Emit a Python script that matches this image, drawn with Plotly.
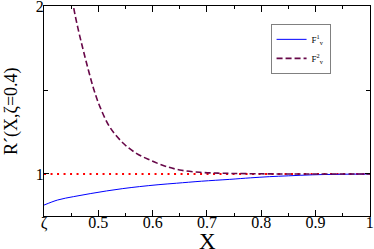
import plotly.graph_objects as go

# F^1_v (solid blue)
f1_x = [0.4, 0.425, 0.454, 0.485, 0.515, 0.545, 0.576, 0.61, 0.644, 0.69, 0.742, 0.78, 0.815, 0.85, 0.894, 0.94, 1.0]
f1_y = [0.815, 0.845, 0.865, 0.883, 0.899, 0.913, 0.925, 0.936, 0.945, 0.957, 0.968, 0.977, 0.984, 0.989, 0.995, 0.998, 1.0]

# F^2_v (dashed maroon)
f2_x = [0.445, 0.454, 0.463, 0.472, 0.482, 0.492, 0.503, 0.521, 0.546, 0.57, 0.595, 0.622, 0.65, 0.687, 0.72, 0.75, 0.8, 0.85, 0.9, 0.95, 1.0]
f2_y = [2.2, 2.0, 1.86, 1.74, 1.615, 1.50, 1.40, 1.28, 1.183, 1.123, 1.083, 1.048, 1.024, 1.01, 1.005, 1.003, 1.001, 1.0, 1.0, 1.0, 1.0]

# reference line
ref_x = [0.4, 1.0]
ref_y = [1.0, 1.0]

x_ticks = [0.4, 0.5, 0.6, 0.7, 0.8, 0.9, 1.0]
x_labels = ["ζ", "0.5", "0.6", "0.7", "0.8", "0.9", "1"]
y_ticks = [1, 2]
y_labels = ["1", "2"]

fig = go.Figure()
fig.add_trace(go.Scatter(x=ref_x, y=ref_y, mode="lines", showlegend=False,
                         line=dict(color="#ff0000", width=2.2, dash="2px,4.5px")))
fig.add_trace(go.Scatter(x=f1_x, y=f1_y, mode="lines", name="F<sup>1</sup><sub>v</sub>",
                         line=dict(color="#0000ff", width=1, shape="spline")))
fig.add_trace(go.Scatter(x=f2_x, y=f2_y, mode="lines", name="F<sup>2</sup><sub>v</sub>",
                         line=dict(color="#670748", width=1.6, dash="6px,3px", shape="spline")))

font_family = "Liberation Serif, Times New Roman, serif"
fig.update_layout(
    width=374, height=249,
    margin=dict(l=44, r=4, t=6, b=33),
    paper_bgcolor="white", plot_bgcolor="white",
    font=dict(family=font_family, color="black"),
    legend=dict(x=0.695, y=0.915, xanchor="left", yanchor="top",
                bordercolor="#808080", borderwidth=1, bgcolor="white",
                font=dict(size=9, family=font_family), itemwidth=30,
                tracegroupgap=0),
    annotations=[
        dict(text="X", xref="paper", yref="paper", x=0.5, y=0, yshift=-25,
             xanchor="center", yanchor="middle", showarrow=False,
             font=dict(size=23, family=font_family)),
        dict(text="R´(X,ζ=0.4)", xref="paper", yref="paper", x=0, y=0.5, xshift=-33,
             xanchor="center", yanchor="middle", textangle=-90, showarrow=False,
             font=dict(size=18, family=font_family)),
    ],
)
fig.update_xaxes(range=[0.3999, 1.0004], tickvals=x_ticks, ticktext=x_labels, automargin=False,
                 ticks="inside", ticklen=6, tickcolor="black", tickwidth=1,
                 minor=dict(tickvals=[0.45, 0.55, 0.65, 0.75, 0.85, 0.95], ticks="inside", ticklen=3, tickcolor="black"),
                 showline=True, linecolor="black", linewidth=1, mirror="ticks",
                 showgrid=False, zeroline=False, ticklabeloverflow="allow",
                 tickfont=dict(size=16, family=font_family), ticklabelstandoff=-8)
fig.update_yaxes(range=[0.7498, 2.0004], tickvals=y_ticks, ticktext=y_labels, automargin=False,
                 ticks="inside", ticklen=5, tickcolor="black", tickwidth=1,
                 minor=dict(tickvals=[1.5], ticks="inside", ticklen=4, tickcolor="black"),
                 showline=True, linecolor="black", linewidth=1, mirror="ticks",
                 showgrid=False, zeroline=False, ticklabeloverflow="allow",
                 tickfont=dict(size=16, family=font_family), ticklabelstandoff=-4)

fig.write_html("out.html", config={"displayModeBar": False},
               post_script="document.body.style.margin='0';document.body.style.overflow='hidden';")
